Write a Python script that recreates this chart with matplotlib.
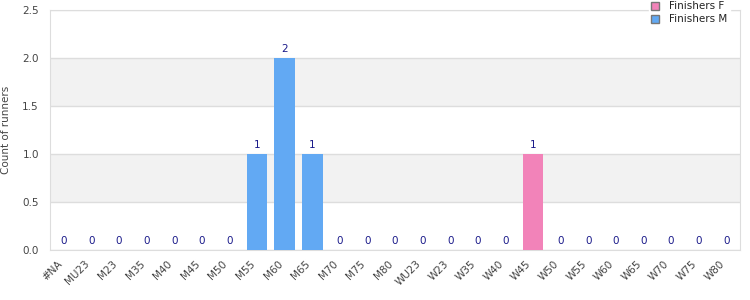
import matplotlib.pyplot as plt
import matplotlib.patches as mpatches
import numpy as np

categories = ["#NA", "MU23", "M23", "M35", "M40", "M45", "M50", "M55", "M60", "M65",
              "M70", "M75", "M80", "WU23", "W23", "W35", "W40", "W45", "W50", "W55",
              "W60", "W65", "W70", "W75", "W80"]
finishers_f = [0, 0, 0, 0, 0, 0, 0, 0, 0, 0, 0, 0, 0, 0, 0, 0, 0, 1, 0, 0, 0, 0, 0, 0, 0]
finishers_m = [0, 0, 0, 0, 0, 0, 0, 1, 2, 1, 0, 0, 0, 0, 0, 0, 0, 0, 0, 0, 0, 0, 0, 0, 0]

col_f = "#f283b9"
col_m = "#62a9f3"
grid_col = "#dddddd"
text_col = "#444444"

plt.rcParams['font.family'] = ['DejaVu Sans']

fig = plt.figure(figsize=(7.5, 3), dpi=100)
ax = fig.add_axes([0.0667, 0.1667, 0.92, 0.80])

x = np.arange(len(categories))
f = np.array(finishers_f)
m = np.array(finishers_m)
ax.bar(x, f, width=0.75, color=col_f, zorder=3)
ax.bar(x, m, width=0.75, bottom=f, color=col_m, zorder=3)

# total count above each bar
totals = f + m
for xi, t in zip(x, totals):
    ax.annotate(str(t), (xi, t), xytext=(0, 3), textcoords="offset points",
                ha="center", va="bottom", fontsize=7.5, color="#1a1a8a", zorder=4)

# alternating bands
for lo in [0.5, 1.5]:
    ax.axhspan(lo, lo + 0.5, color="#f2f2f2", zorder=0, lw=0)

ax.set_ylim(0, 2.5)
ax.set_xlim(-0.5, len(categories) - 0.5)
ax.set_yticks(np.arange(0, 2.6, 0.5))
ax.set_yticklabels([f"{v:.1f}" for v in np.arange(0, 2.6, 0.5)])
ax.yaxis.grid(True, color=grid_col, lw=1, zorder=1)
ax.set_axisbelow(True)

ax.set_xticks(x)
ax.set_xticklabels(categories, rotation=45, ha="right", va="top")
ax.tick_params(axis="both", length=0, labelsize=7.5, colors=text_col)
ax.tick_params(axis="x", pad=6)
ax.tick_params(axis="y", pad=8)

for s in ax.spines.values():
    s.set_color(grid_col)

ax.set_ylabel("Count of runners", fontsize=7.5, color=text_col, labelpad=8)

handles = [mpatches.Patch(facecolor=col_f, edgecolor="#777777", label="Finishers F"),
           mpatches.Patch(facecolor=col_m, edgecolor="#777777", label="Finishers M")]
leg = ax.legend(handles=handles, loc="upper right", bbox_to_anchor=(0.985, 1.045),
                fontsize=7.5, frameon=True, facecolor="white", edgecolor="white",
                framealpha=1, handlelength=0.8, handleheight=0.8, borderpad=0.2,
                labelspacing=0.3, handletextpad=1.0, borderaxespad=0)
for t in leg.get_texts():
    t.set_color("#222222")
leg.set_zorder(5)

fig.savefig("out.png", dpi=100)
